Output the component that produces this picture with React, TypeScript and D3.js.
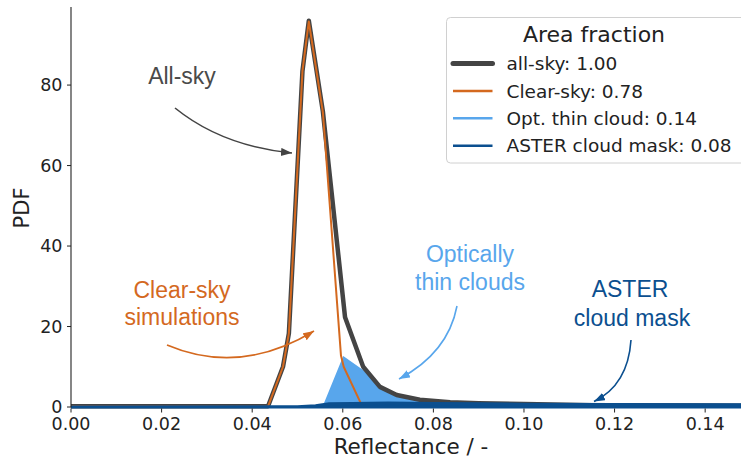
import React from "react";
import * as d3 from "d3";

const W = 741;
const H = 463;

// All-sky PDF
const allSkyX = [0.0, 0.0435, 0.0468, 0.0481, 0.0511, 0.0525, 0.0556, 0.0605, 0.0645, 0.0682, 0.0719, 0.077, 0.0837, 0.09, 0.1, 0.115, 0.13, 0.148];
const allSkyY = [0.2, 0.2, 10.0, 18.3, 83.5, 96.0, 73.5, 22.3, 10.0, 5.0, 3.0, 1.8, 1.2, 0.95, 0.75, 0.45, 0.35, 0.3];

// Clear-sky simulations PDF
const clearX = [0.0, 0.0435, 0.0468, 0.0481, 0.0511, 0.0525, 0.0556, 0.0596, 0.0602, 0.0642, 0.07, 0.148];
const clearY = [0.15, 0.15, 10.0, 18.3, 83.5, 95.8, 73.3, 12.8, 10.0, 0.4, 0.1, 0.0];

// Optically thin cloud PDF
const thinX = [0.0555, 0.0601, 0.0645, 0.0667, 0.0693, 0.0755, 0.0815, 0.09, 0.1, 0.115, 0.148];
const thinY = [0.0, 12.7, 9.2, 6.7, 4.2, 2.2, 1.3, 0.9, 0.6, 0.4, 0.3];

// ASTER cloud mask PDF
const asterX = [0.0, 0.05, 0.054, 0.057, 0.062, 0.07, 0.08, 0.09, 0.1, 0.12, 0.148];
const asterY = [0.0, 0.05, 0.3, 0.8, 0.9, 1.0, 0.9, 0.8, 0.7, 0.6, 0.55];

const xTicks = [0, 0.02, 0.04, 0.06, 0.08, 0.1, 0.12, 0.14];
const yTicks = [0, 20, 40, 60, 80];

const legendTitle = "Area fraction";
const legendLabels = ["all-sky: 1.00", "Clear-sky: 0.78", "Opt. thin cloud: 0.14", "ASTER cloud mask: 0.08"];

const C_ALL = "#444444";
const C_CLEAR = "#d4691f";
const C_THIN = "#58a6ec";
const C_ASTER = "#0b4f8f";

export default function App() {
  const x = d3.scaleLinear().domain([0, 0.148]).range([71, 741.4]);
  const y = d3.scaleLinear().domain([0, 99.4]).range([407, 7]);

  const line = (xs: number[], ys: number[]) =>
    d3.line<number>().x((_, i) => x(xs[i])).y((d) => y(d))(ys) || "";
  const area = (xs: number[], ys: number[]) =>
    d3.area<number>().x((_, i) => x(xs[i])).y0(y(0)).y1((d) => y(d))(ys) || "";

  const tickFont = "DejaVu Sans, sans-serif";
  const annFont = "Liberation Sans, Arial, sans-serif";

  const legendColors = [C_ALL, C_CLEAR, C_THIN, C_ASTER];
  const legendWidths = [5, 2.5, 2.5, 2.5];
  const legendRowY = [63.5, 91, 118.3, 145.7];

  const arrows = [
    { p0: [175, 108], c: [222, 146], p1: [292, 153], col: C_ALL, id: "mA" },
    { p0: [167, 345], c: [240, 376], p1: [314, 331], col: C_CLEAR, id: "mC" },
    { p0: [457, 306], c: [448, 353], p1: [399, 379], col: C_THIN, id: "mT" },
    { p0: [631, 340], c: [628, 385], p1: [594, 401.5], col: C_ASTER, id: "mS" },
  ];

  return (
    <svg width={W} height={H} style={{ position: "absolute", left: 0, top: 0, background: "#fff" }}>
      <defs>
        {arrows.map((a) => (
          <marker key={a.id} id={a.id} markerUnits="userSpaceOnUse" markerWidth={12} markerHeight={10}
            refX={11} refY={4} orient="auto">
            <path d="M0,0 L11,4 L0,8 Z" fill={a.col} />
          </marker>
        ))}
        <clipPath id="plotClip">
          <rect x={71} y={0} width={W - 71} height={415} />
        </clipPath>
      </defs>

      {/* data */}
      <g clipPath="url(#plotClip)">
        <path d={area(thinX, thinY)} fill={C_THIN} stroke="none" />
        <path d={line(allSkyX, allSkyY)} fill="none" stroke={C_ALL} strokeWidth={4.5} strokeLinejoin="round" />
        <path d={line(clearX, clearY)} fill="none" stroke={C_CLEAR} strokeWidth={2} strokeLinejoin="round" />
        <path d={area(asterX, asterY)} fill={C_ASTER} stroke={C_ASTER} strokeWidth={3} strokeLinejoin="round" />
      </g>

      {/* axes */}
      <line x1={71} x2={71} y1={7} y2={407.5} stroke="#222" strokeWidth={1.1} />
      {yTicks.map((t) => (
        <g key={"y" + t}>
          <line x1={67} x2={71} y1={y(t)} y2={y(t)} stroke="#222" strokeWidth={1} />
          <text x={62.5} y={y(t)} dy="0.36em" textAnchor="end" fontFamily={tickFont} fontSize={17.5} fill="#222">
            {t}
          </text>
        </g>
      ))}
      {xTicks.map((t) => (
        <g key={"x" + t}>
          <line x1={x(t)} x2={x(t)} y1={408.5} y2={412.5} stroke="#222" strokeWidth={1} />
          <text x={x(t)} y={430} textAnchor="middle" fontFamily={tickFont} fontSize={17.5} fill="#222">
            {t.toFixed(2)}
          </text>
        </g>
      ))}
      <text x={411} y={454} textAnchor="middle" fontFamily={tickFont} fontSize={21.5} fill="#222">
        Reflectance / -
      </text>
      <text transform="translate(29,208) rotate(-90)" textAnchor="middle" fontFamily={tickFont} fontSize={21} fill="#222">
        PDF
      </text>

      {/* annotations */}
      {arrows.map((a) => (
        <path key={"p" + a.id}
          d={`M${a.p0[0]},${a.p0[1]} Q${a.c[0]},${a.c[1]} ${a.p1[0]},${a.p1[1]}`}
          fill="none" stroke={a.col} strokeWidth={1.6} markerEnd={`url(#${a.id})`} />
      ))}
      <text x={182} y={84} textAnchor="middle" fontFamily={annFont} fontSize={23} fill="#4a4a4a">All-sky</text>
      <text x={182} y={297.5} textAnchor="middle" fontFamily={annFont} fontSize={23} fill={C_CLEAR}>Clear-sky</text>
      <text x={182} y={324.5} textAnchor="middle" fontFamily={annFont} fontSize={23} fill={C_CLEAR}>simulations</text>
      <text x={470} y={262} textAnchor="middle" fontFamily={annFont} fontSize={23} fill={C_THIN}>Optically</text>
      <text x={470} y={290} textAnchor="middle" fontFamily={annFont} fontSize={23} fill={C_THIN}>thin clouds</text>
      <text x={630} y={297} textAnchor="middle" fontFamily={annFont} fontSize={23} fill={C_ASTER}>ASTER</text>
      <text x={632} y={326} textAnchor="middle" fontFamily={annFont} fontSize={23} fill={C_ASTER}>cloud mask</text>

      {/* legend */}
      <rect x={446.5} y={17.5} width={300} height={145.5} rx={4} fill="#fff" fillOpacity={0.85} stroke="#d0d0d0" strokeWidth={1} />
      <text x={594} y={42} textAnchor="middle" fontFamily={tickFont} fontSize={22} fill="#222">{legendTitle}</text>
      {legendLabels.map((lab, i) => (
        <g key={lab}>
          <line x1={453} x2={492.5} y1={legendRowY[i]} y2={legendRowY[i]} stroke={legendColors[i]}
            strokeWidth={legendWidths[i]} strokeLinecap={i === 0 ? "round" : "butt"} />
          <text x={506.5} y={legendRowY[i]} dy="0.36em" fontFamily={tickFont} fontSize={18.5} fill="#222">{lab}</text>
        </g>
      ))}
    </svg>
  );
}
